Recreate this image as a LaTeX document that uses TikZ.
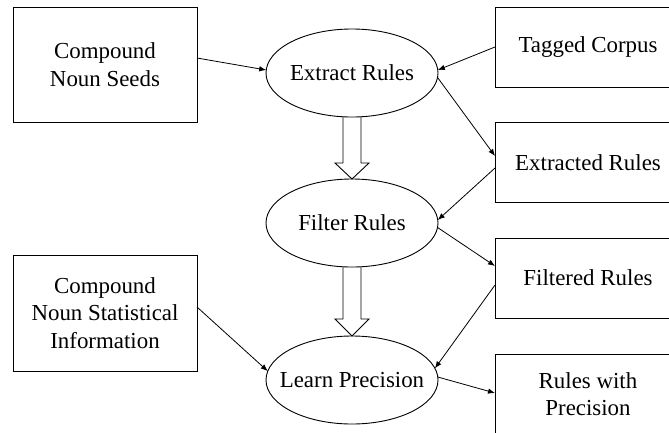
\documentclass[tikz,border=0pt]{standalone}
\usepackage{fontspec}
\setmainfont{Liberation Serif}
\usetikzlibrary{shapes.geometric,arrows.meta,calc}
\begin{document}
\begin{tikzpicture}[x=1pt,y=-1pt,
  every node/.style={font=\fontsize{22.9}{27.5}\selectfont, align=center, inner sep=0pt, outer sep=0pt},
  srcbox/.style={draw, line width=1pt, minimum width=184pt},
  outbox/.style={draw, line width=1pt, minimum width=186pt, minimum height=80pt},
  proc/.style={draw, ellipse, line width=0.9pt, minimum width=172pt, minimum height=88pt, label=center:{#1}},
  flow/.style={line width=0.8pt, -{Latex[length=7pt,width=5.5pt]}},
  bigarrow/.style={draw, line width=0.9pt}]
\useasboundingbox (0,0) rectangle (669,432);
\clip (0,0) rectangle (669,432);

% inputs on the left
\node[srcbox, minimum height=115pt] (seeds) at (105,64.5) {Compound\\Noun Seeds};
\node[srcbox, minimum height=116pt] (stat) at (105,313) {Compound\\Noun Statistical\\Information};

% processing steps (fixed-size ellipses, text as a centred label)
\node[proc={Extract Rules}] (ext) at (352,73) {};
\node[proc={Filter Rules}] (flt) at (352,223) {};
\node[proc={Learn Precision}] (lrn) at (352,380) {};

% data on the right
\node[outbox] (tag) at (588,47) {Tagged Corpus};
\node[outbox] (xtr) at (588,162.5) {Extracted Rules};
\node[outbox] (fil) at (588,278) {Filtered Rules};
\node[outbox] (rwp) at (588,394) {Rules with\\Precision};

% data flow
\draw[flow] ($(seeds.east)+(0,-6.5)$) -- (ext.178);
\draw[flow] (tag.west) -- (ext.2);
\draw[flow] (ext.-3) -- ($(xtr.west)+(0,-6.5)$);
\draw[flow] ($(xtr.west)+(0,5.5)$) -- (flt.2);
\draw[flow] (flt.-3) -- ($(fil.west)+(0,-12)$);
\draw[flow] ($(fil.west)+(0,7)$) -- (lrn.8);
\draw[flow] (lrn.2) -- ($(rwp.west)+(0,-1)$);
\draw[flow] ($(stat.east)+(0,-6)$) -- (lrn.174);

% sequence of steps (hollow arrows)
\draw[bigarrow] ($(ext.south)+(-9,0)$) -- ($(flt.north)+(-9,-16)$) -- ($(flt.north)+(-17,-16)$)
  -- (flt.north) -- ($(flt.north)+(17,-16)$) -- ($(flt.north)+(9,-16)$) -- ($(ext.south)+(9,0)$);
\draw[bigarrow] ($(flt.south)+(-9,0)$) -- ($(lrn.north)+(-9,-17)$) -- ($(lrn.north)+(-17,-17)$)
  -- (lrn.north) -- ($(lrn.north)+(17,-17)$) -- ($(lrn.north)+(9,-17)$) -- ($(flt.south)+(9,0)$);
\end{tikzpicture}
\end{document}
